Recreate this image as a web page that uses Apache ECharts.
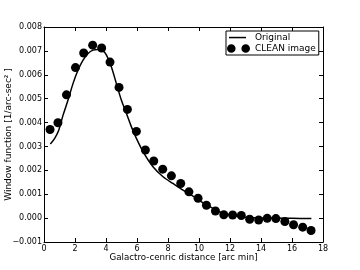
<!DOCTYPE html>
<html><head><meta charset="utf-8">
<script src="https://cdn.jsdelivr.net/npm/echarts@6/dist/echarts.min.js"></script>
<style>html,body{margin:0;padding:0;background:#fff}#c{width:360px;height:270px}</style>
</head><body><div id="c"></div>
<script>
// Original window function (line)
const origX = [0.41,0.69,0.95,1.23,1.55,1.87,2.19,2.52,2.84,3.16,3.48,3.81,4.03,4.35,4.67,4.99,5.32,5.64,5.96,6.45,7.03,7.68,8.32,8.97,9.61,10.26,10.90,11.55,12.63,13.50,15.00,16.00,17.25];
const origY = [0.00310,0.00334,0.00368,0.00431,0.00494,0.00563,0.00619,0.00661,0.00689,0.00703,0.00706,0.00700,0.00682,0.00633,0.00563,0.00494,0.00438,0.00382,0.00334,0.00271,0.00215,0.00173,0.00145,0.00117,0.00092,0.00064,0.00041,0.00020,0.00006,0.00002,0.00000,-0.00001,-0.00002];
// CLEAN image (dots)
const cleanX = [0.39,0.90,1.45,2.03,2.56,3.14,3.72,4.26,4.84,5.38,5.96,6.54,7.08,7.66,8.22,8.82,9.35,9.94,10.48,11.06,11.60,12.17,12.73,13.27,13.85,14.40,14.96,15.54,16.10,16.69,17.23];
const cleanY = [0.00371,0.00399,0.00516,0.00630,0.00691,0.00724,0.00712,0.00653,0.00547,0.00455,0.00363,0.00285,0.00239,0.00205,0.00177,0.00145,0.00110,0.00083,0.00054,0.00030,0.00014,0.00013,0.00011,-0.00005,-0.00008,-0.00001,-0.00002,-0.00014,-0.00028,-0.00038,-0.00052];
const seriesNames = ['Original','CLEAN image'];
const xTitle = 'Galactro-cenric distance [arc min]';
const yTitle = 'Window function [1/arc-sec² ]';

const FONT = 'DejaVu Sans';
const chart = echarts.init(document.getElementById('c'), null, {renderer:'canvas'});
const axisLine = {show:true, onZero:false, lineStyle:{color:'#000', width:1}};
const tick = {show:true, inside:true, length:4, lineStyle:{color:'#000', width:1}};
const fmtY = v => { const s = (Math.round(v*1000)/1000).toFixed(3); return s.replace('-', '\u2212'); };
chart.setOption({
  animation:false,
  grid:{left:44, right:37, top:27, bottom:28, show:false, containLabel:false, outerBoundsMode:'none'},
  legend:{
    orient:'vertical', left:226, top:31,
    data:[
      {name:seriesNames[0], icon:'path://M0,0M23,9M2,3.8h17v1.5h-17z'},
      {name:seriesNames[1], icon:'path://M0,4.5a4.3,4.3 0 1,0 8.6,0a4.3,4.3 0 1,0 -8.6,0M14.4,4.5a4.3,4.3 0 1,0 8.6,0a4.3,4.3 0 1,0 -8.6,0'}
    ],
    itemWidth:23, itemHeight:9, itemGap:2,
    padding:[2,3,2,1],
    borderColor:'#000', borderWidth:1, borderRadius:0,
    textStyle:{fontFamily:FONT, fontSize:9, color:'#000'}
  },
  xAxis:[
    {type:'value', min:0, max:18, interval:2, position:'bottom',
     axisLine, axisTick:tick, splitLine:{show:false},
     axisLabel:{fontFamily:FONT, fontSize:8, color:'#000', margin:3},
     name:xTitle, nameLocation:'middle', nameGap:11.5, nameMoveOverlap:false,
     nameTextStyle:{fontFamily:FONT, fontSize:8.7, color:'#000', verticalAlign:'top'}},
    {type:'value', min:0, max:18, interval:2, position:'top',
     axisLine, axisTick:tick, splitLine:{show:false}, axisLabel:{show:false}}
  ],
  yAxis:[
    {type:'value', min:-0.001, max:0.008, interval:0.001, position:'left',
     axisLine, axisTick:tick, splitLine:{show:false},
     axisLabel:{fontFamily:FONT, fontSize:8, color:'#000', margin:2, formatter:fmtY},
     name:yTitle, nameLocation:'middle', nameGap:31, nameMoveOverlap:false,
     nameTextStyle:{fontFamily:FONT, fontSize:9, color:'#000'}},
    {type:'value', min:-0.001, max:0.008, interval:0.001, position:'right',
     axisLine, axisTick:tick, splitLine:{show:false}, axisLabel:{show:false}}
  ],
  series:[
    {name:seriesNames[0], type:'line', data:origX.map((x,i)=>[x,origY[i]]),
     showSymbol:false, symbol:'none', smooth:0.3,
     lineStyle:{color:'#000', width:1.5}, itemStyle:{color:'#000'}},
    {name:seriesNames[1], type:'scatter', data:cleanX.map((x,i)=>[x,cleanY[i]]),
     symbol:'circle', symbolSize:9, itemStyle:{color:'#000', opacity:1}}
  ]
});
</script></body></html>
